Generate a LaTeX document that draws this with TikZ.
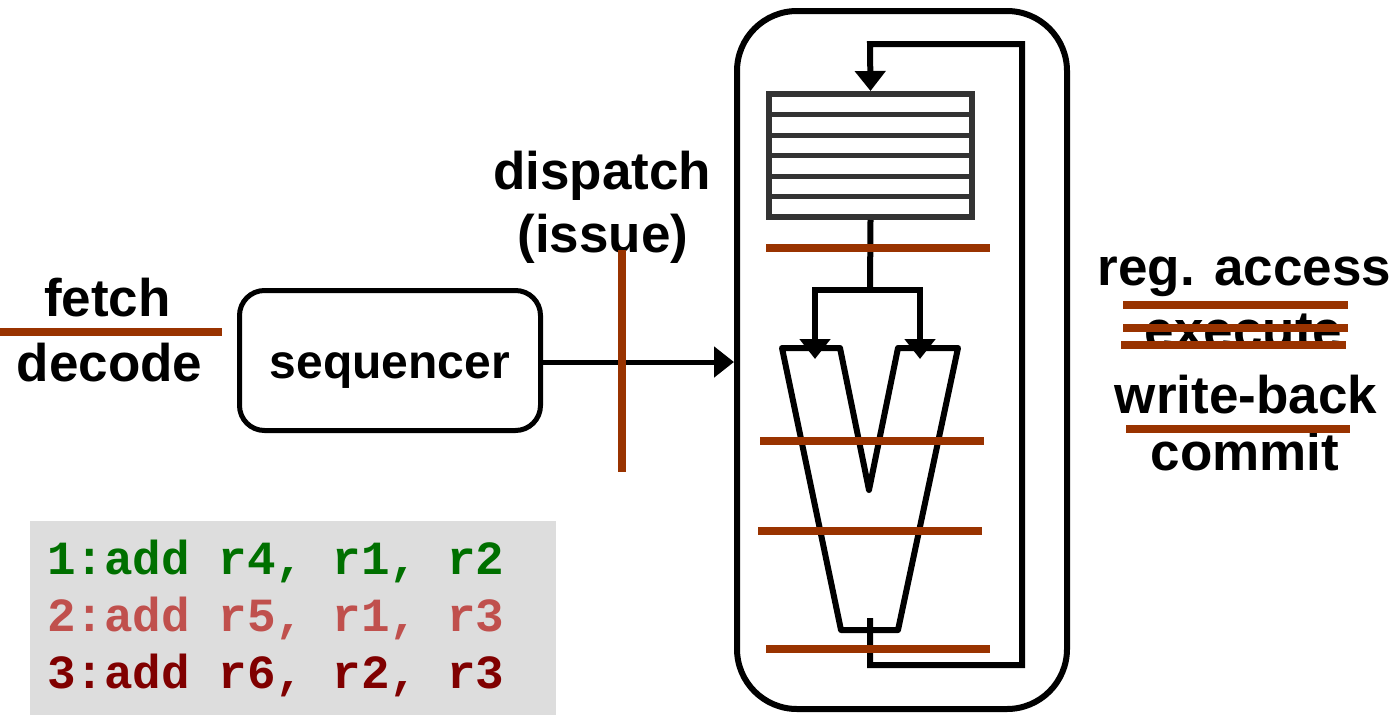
\documentclass[tikz,border=0pt]{standalone}
\usepackage{fontspec}
\setmainfont{Liberation Sans}
\newfontfamily\codefont{Liberation Mono}
\usetikzlibrary{arrows.meta}
\definecolor{brn}{RGB}{153,51,0}
\definecolor{cgreen}{RGB}{0,112,0}
\definecolor{cred}{RGB}{192,80,77}
\definecolor{cdark}{RGB}{128,0,0}
\definecolor{rfgray}{RGB}{51,51,51}
\definecolor{codebg}{RGB}{221,221,221}
\begin{document}
\begin{tikzpicture}[x=1pt,y=-1pt,
  lbl/.style={font=\fontsize{53}{60}\selectfont\bfseries, inner sep=0pt, anchor=base},
  codeline/.style={font=\fontsize{47.6}{54}\selectfont\codefont\bfseries, inner sep=0pt, anchor=base west},
  latch/.style={draw=brn, line width=7.5pt},
  wire/.style={draw=black, line width=6pt},
  tip/.style={-{Triangle[width=30pt,length=20pt]}},
]
\useasboundingbox (0,0) rectangle (1394,715);

% code box
\node[fill=codebg, minimum width=526pt, minimum height=194pt, anchor=north west, inner sep=0pt] (codebox) at (30,521) {};
\node[codeline, text=cgreen] (c1) at (47,574) {1:add r4, r1, r2};
\node[codeline, text=cred] (c2) at (47,631) {2:add r5, r1, r3};
\node[codeline, text=cdark] (c3) at (47,688) {3:add r6, r2, r3};

% left labels
\node[lbl] (fetch) at (107.5,316) {fetch};
\node[lbl] (decode) at (109.5,381) {decode};
\node[lbl] (dispatch) at (602,189) {dispatch};
\node[lbl] (issue) at (603,252) {(issue)};

% sequencer
\node[draw, line width=5pt, rounded corners=25pt, minimum width=301pt, minimum height=140pt, inner sep=0pt] (seq) at (390,360.5) {};
\node[font=\fontsize{48}{54}\selectfont\bfseries, inner sep=0pt, anchor=base] (seqtxt) at (390,378) {sequencer};

% core box
\node[draw, line width=6pt, rounded corners=60pt, minimum width=330pt, minimum height=698pt, inner sep=0pt] (core) at (902,360) {};

% arrow sequencer -> core
\draw[wire, line width=5pt, tip] (seq.east |- 0,362) -- (core.west |- 0,362);

% register file
\node[draw=rfgray, line width=6pt, minimum width=203pt, minimum height=123pt, inner sep=0pt] (rf) at (870.5,155.5) {};
\foreach \i in {1,...,5}
  \draw[rfgray, line width=5pt] (rf.west |- 0,{94+\i*123/6}) -- (rf.east |- 0,{94+\i*123/6});

% ALU (V shape)
\coordinate (v1) at (782,348);
\coordinate (v2) at (840,348);
\coordinate (v3) at (869,490);
\coordinate (v4) at (898,348);
\coordinate (v5) at (958,348);
\coordinate (v6) at (898,630);
\coordinate (v7) at (841,630);
\draw[wire, line join=round] (v1) -- (v2) -- (v3) -- (v4) -- (v5) -- (v6) -- (v7) -- cycle;

% rf -> ALU inputs
\coordinate (split) at (870,290);
\coordinate (inA) at (815,359);
\coordinate (inB) at (920,359);
\draw[wire] (rf.south) -- (split);
\draw[wire, tip] (split) -| (inA);
\draw[wire, tip] (split) -| (inB);

% feedback ALU -> rf
\coordinate (aluout) at (870,618);
\coordinate (fb1) at (870,665);
\coordinate (fb2) at (1022,665);
\coordinate (fb3) at (1022,44);
\coordinate (fb4) at (870,44);
\draw[wire, tip] (aluout) -- (fb1) -- (fb2) -- (fb3) -- (fb4) -- (rf.north);

% right labels
\node[lbl] (regacc) at (1244.5,285) {reg. access};
\node[lbl] (exec) at (1243.5,348) {execute};
\node[lbl] (wb) at (1246,413) {write-back};
\node[lbl] (commit) at (1245,470) {commit};

% pipeline latches
\draw[latch] (0,332) -- (222,332);
\draw[latch] (622,250) -- (622,472);
\draw[latch] (766,248) -- (990,248);
\draw[latch] (760,441) -- (984,441);
\draw[latch] (758,531) -- (982,531);
\draw[latch] (766,649) -- (990,649);
\draw[latch] (1123,305) -- (1348,305);
\draw[latch] (1123,328) -- (1348,328);
\draw[latch] (1121,345) -- (1346,345);
\draw[latch] (1126,429) -- (1350,429);
\end{tikzpicture}
\end{document}
